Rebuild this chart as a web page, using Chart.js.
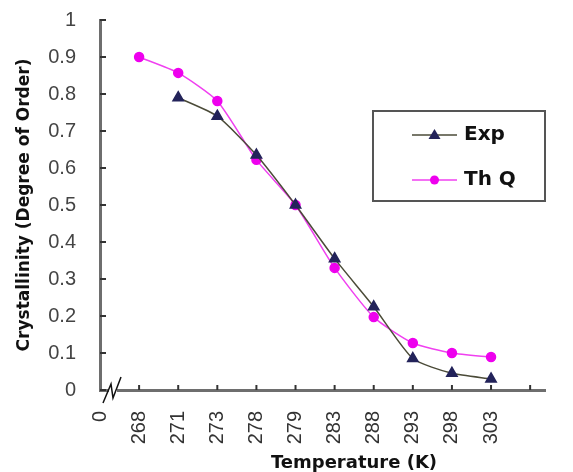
<!DOCTYPE html>
<html>
<head>
<meta charset="utf-8">
<script src="https://cdn.jsdelivr.net/npm/chart.js@4"></script>
<style>
  html, body { margin: 0; padding: 0; background: #fff; }
  #wrap { width: 573px; height: 472px; }
</style>
</head>
<body>
<div id="wrap"><canvas id="crystChart" width="573" height="472"></canvas></div>
<script>
// categories on the x axis (first one is the broken "0")
const temps = ['0', '268', '271', '273', '278', '279', '283', '288', '293', '298', '303', ''];
const yTicks = [0, 0.1, 0.2, 0.3, 0.4, 0.5, 0.6, 0.7, 0.8, 0.9, 1];

// series values, null where there is no point
const expVals = [null, null, 0.79, 0.74, 0.635, 0.50, 0.355, 0.225, 0.085, 0.045, 0.03];
const thqVals = [null, 0.90, 0.857, 0.781, 0.622, 0.50, 0.33, 0.197, 0.127, 0.10, 0.089];

const toPoints = vals => vals.map((v, i) => ({ x: i, y: v })).filter(p => p.y !== null);

const boldFont = '"DejaVu Sans", Verdana, sans-serif';
const plainFont = '"Liberation Sans", Arial, sans-serif';

// inward tick marks, axis break symbol and x title
const axisExtras = {
  id: 'axisExtras',
  afterDraw(chart) {
    const { ctx, scales: { x, y } } = chart;
    ctx.save();
    ctx.strokeStyle = '#333';
    ctx.lineWidth = 2;
    yTicks.forEach(v => {
      const py = y.getPixelForValue(v);
      ctx.beginPath();
      ctx.moveTo(x.left, py);
      ctx.lineTo(x.left + 6, py);
      ctx.stroke();
    });
    for (let i = 1; i < temps.length; i++) {
      const px = x.getPixelForValue(i);
      ctx.beginPath();
      ctx.moveTo(px, y.bottom);
      ctx.lineTo(px, y.bottom - 5);
      ctx.stroke();
    }
    // break mark
    const bx = x.left + 12, by = y.bottom;
    ctx.fillStyle = '#fff';
    ctx.fillRect(bx - 3, by - 4, 8, 8);
    ctx.strokeStyle = '#111';
    ctx.lineWidth = 1.5;
    ctx.beginPath();
    ctx.moveTo(bx - 9, by + 13);
    ctx.lineTo(bx - 1, by - 6);
    ctx.lineTo(bx + 1, by + 8);
    ctx.lineTo(bx + 9, by - 13);
    ctx.stroke();

    // x axis title
    ctx.fillStyle = '#111';
    ctx.font = 'bold 18px ' + boldFont;
    ctx.textAlign = 'center';
    ctx.textBaseline = 'middle';
    ctx.fillText('Temperature (K)', 354, 463);
    ctx.restore();
  }
};

// boxed legend inside the plot
const boxLegend = {
  id: 'boxLegend',
  afterDraw(chart) {
    const ctx = chart.ctx;
    const bx = 373, by = 111, bw = 172, bh = 90;
    ctx.save();
    ctx.fillStyle = '#fff';
    ctx.fillRect(bx, by, bw, bh);
    ctx.strokeStyle = '#555';
    ctx.lineWidth = 2;
    ctx.strokeRect(bx, by, bw, bh);
    chart.data.datasets.forEach((ds, i) => {
      const ly = by + 24 + i * 45;
      ctx.strokeStyle = ds.borderColor;
      ctx.lineWidth = 1.5;
      ctx.beginPath();
      ctx.moveTo(412, ly);
      ctx.lineTo(457, ly);
      ctx.stroke();
      ctx.fillStyle = ds.pointBackgroundColor;
      ctx.beginPath();
      if (ds.pointStyle === 'triangle') {
        ctx.moveTo(434.5, ly - 6);
        ctx.lineTo(440.5, ly + 4);
        ctx.lineTo(428.5, ly + 4);
        ctx.closePath();
      } else {
        ctx.arc(434.5, ly, 4.5, 0, Math.PI * 2);
      }
      ctx.fill();
      ctx.fillStyle = '#111';
      ctx.font = 'bold 20px ' + boldFont;
      ctx.textAlign = 'left';
      ctx.textBaseline = 'middle';
      ctx.fillText(ds.label, 464, ly);
    });
    ctx.restore();
  }
};

new Chart(document.getElementById('crystChart'), {
  type: 'line',
  data: {
    datasets: [{
      label: 'Exp',
      data: toPoints(expVals),
      borderColor: '#4b4b38',
      borderWidth: 1.5,
      pointStyle: 'triangle',
      pointRadius: 6,
      pointBackgroundColor: '#23235a',
      pointBorderColor: '#23235a',
      tension: 0.2
    }, {
      label: 'Th Q',
      data: toPoints(thqVals),
      borderColor: '#f040f0',
      borderWidth: 1.5,
      pointStyle: 'circle',
      pointRadius: 4.5,
      pointBackgroundColor: '#ee00ee',
      pointBorderColor: '#ee00ee',
      tension: 0.2
    }]
  },
  options: {
    responsive: false,
    animation: false,
    layout: { padding: { top: 20, right: 28, bottom: 0, left: 0 } },
    plugins: { legend: { display: false }, tooltip: { enabled: false } },
    scales: {
      x: {
        type: 'linear',
        min: 0,
        max: 11.38,
        afterFit: s => { s.height = 82; s.paddingLeft = 0; s.paddingRight = 0; },
        afterBuildTicks: s => { s.ticks = temps.map((t, i) => ({ value: i })); },
        grid: { display: false },
        border: { display: true, color: '#6e6e6e', width: 3 },
        ticks: {
          autoSkip: false,
          minRotation: 90,
          maxRotation: 90,
          padding: 13,
          color: '#333',
          font: { family: plainFont, size: 20 },
          callback: v => temps[v]
        }
      },
      y: {
        min: 0,
        max: 1,
        afterFit: s => { s.width = 100; s.paddingTop = 0; s.paddingBottom = 0; },
        afterBuildTicks: s => { s.ticks = yTicks.map(v => ({ value: v })); },
        grid: { display: false },
        border: { display: true, color: '#6e6e6e', width: 3 },
        ticks: {
          padding: 16,
          color: '#444',
          font: { family: plainFont, size: 20 },
          callback: v => String(v)
        },
        title: {
          display: true,
          text: 'Crystallinity (Degree of Order)',
          color: '#111',
          padding: { top: 14, bottom: 0 },
          font: { family: boldFont, size: 17, weight: 'bold' }
        }
      }
    }
  },
  plugins: [axisExtras, boxLegend]
});
</script>
</body>
</html>
